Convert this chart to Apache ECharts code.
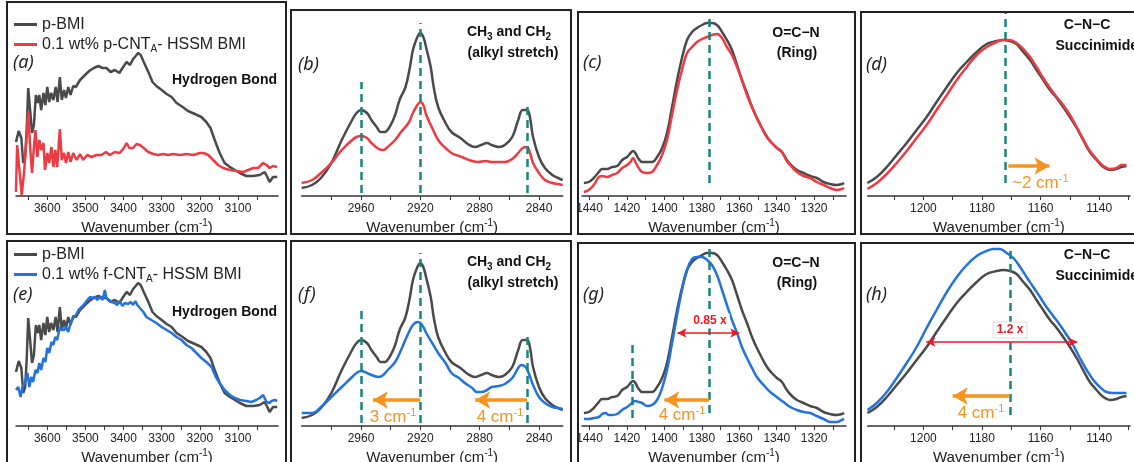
<!DOCTYPE html>
<html lang="en">
<head>
    <meta charset="UTF-8">
    <title>FTIR</title>
    <script src="https://cdn.jsdelivr.net/npm/echarts@6.0.0/dist/echarts.min.js"></script>
    <style>
        * { margin: 0; padding: 0 }
        html, body { width: 100%; height: 100%; background: #fff; }
        #main { width: 1134px; height: 462px; }
    </style>
</head>
<body>
<div id="main"></div>
<script type="text/javascript">
    // series names
    var BMI_NAME = 'p-BMI';
    var P_NAME = '0.1 wt% p-CNTA- HSSM BMI';
    var F_NAME = '0.1 wt% f-CNTA- HSSM BMI';

    // [wavenumber, absorbance (a.u.)]
    // hydrogen bond region (a)(e)
    var ohBmi = [[3682,54],[3675,65],[3668,58],[3663,33],[3658,39],[3654,66],[3650,108],[3645,86],[3640,63],[3635,71],[3630,101],[3625,93],[3621,101],[3616,86],[3610,103],[3605,91],[3600,109],[3595,94],[3590,103],[3584,96],[3578,109],[3573,94],[3567,119],[3562,96],[3556,106],[3551,98],[3545,109],[3539,101],[3532,110],[3525,109],[3514,116],[3501,121],[3490,125],[3478,128],[3466,130],[3455,128],[3445,128],[3434,124],[3423,126],[3411,123],[3401,129],[3392,134],[3383,131],[3375,137],[3368,140],[3362,143],[3355,141],[3347,134],[3335,124],[3324,114],[3314,110],[3300,106],[3287,102],[3274,99],[3261,93],[3245,89],[3231,85],[3213,82],[3196,79],[3183,74],[3172,68],[3161,56],[3148,43],[3135,33],[3121,29],[3108,26],[3095,23],[3078,20],[3060,20],[3043,21],[3030,24],[3023,19],[3017,14],[3008,19],[2997,19]];
    var ohP = [[3682,4],[3679,51],[3673,26],[3667,1],[3661,23],[3656,49],[3650,84],[3645,49],[3640,23],[3635,49],[3631,66],[3626,39],[3621,56],[3616,46],[3610,53],[3606,26],[3600,43],[3595,33],[3589,49],[3584,29],[3579,46],[3574,29],[3567,67],[3562,36],[3556,43],[3551,33],[3545,44],[3539,34],[3532,43],[3523,36],[3514,42],[3506,36],[3495,41],[3484,39],[3471,41],[3458,41],[3446,44],[3436,41],[3423,44],[3410,43],[3399,48],[3392,53],[3385,48],[3375,48],[3366,52],[3357,51],[3347,48],[3335,44],[3322,42],[3309,41],[3296,42],[3283,41],[3270,42],[3252,41],[3235,42],[3217,41],[3200,43],[3190,43],[3178,41],[3165,36],[3152,31],[3139,28],[3121,26],[3104,25],[3086,24],[3073,26],[3060,28],[3047,28],[3034,33],[3025,31],[3017,28],[3008,30],[2997,29]];
    var ohF = [[3682,36],[3676,39],[3670,29],[3665,39],[3659,43],[3652,53],[3647,39],[3642,49],[3637,44],[3631,56],[3626,53],[3621,63],[3616,56],[3610,68],[3605,64],[3600,78],[3595,73],[3589,84],[3584,81],[3579,89],[3574,86],[3567,99],[3562,96],[3556,96],[3551,99],[3545,94],[3539,103],[3532,108],[3525,111],[3518,116],[3510,119],[3501,123],[3495,126],[3488,129],[3481,128],[3475,129],[3469,126],[3462,129],[3455,126],[3449,136],[3445,128],[3438,126],[3431,124],[3423,123],[3417,121],[3410,125],[3403,120],[3397,123],[3388,122],[3381,124],[3375,121],[3369,125],[3364,121],[3357,118],[3348,114],[3340,109],[3327,106],[3314,103],[3300,99],[3287,96],[3274,93],[3261,89],[3248,86],[3235,81],[3222,78],[3209,73],[3196,68],[3183,64],[3169,59],[3158,49],[3148,43],[3135,36],[3121,31],[3108,28],[3095,26],[3078,25],[3065,24],[3052,26],[3043,28],[3034,31],[3030,29],[3025,24],[3018,23],[3012,25],[3004,26],[2997,25]];

    // alkyl stretch region (b)(f)
    var chBmi = [[3000,8],[2993,11],[2987,18],[2980,33],[2973,56],[2966,76],[2963,83],[2960,86],[2956,83],[2953,76],[2949,68],[2947,64],[2944,64],[2940,71],[2937,81],[2934,96],[2930,109],[2927,129],[2925,146],[2922,159],[2920,163],[2918,159],[2916,148],[2913,129],[2911,109],[2908,89],[2903,73],[2899,64],[2893,58],[2888,52],[2883,49],[2879,51],[2875,53],[2872,51],[2867,49],[2863,51],[2858,59],[2854,76],[2851,86],[2848,86],[2846,78],[2844,59],[2840,39],[2836,28],[2831,21],[2827,18],[2824,16]];
    var chP = [[3000,13],[2993,16],[2987,23],[2980,33],[2973,46],[2966,56],[2963,59],[2960,60],[2956,58],[2953,53],[2948,47],[2945,46],[2942,49],[2937,56],[2933,64],[2928,73],[2925,83],[2922,91],[2920,94],[2918,91],[2916,81],[2912,68],[2908,56],[2903,48],[2899,43],[2892,39],[2885,35],[2881,34],[2876,35],[2872,34],[2867,34],[2863,34],[2858,37],[2854,43],[2851,48],[2848,49],[2846,43],[2844,33],[2840,23],[2836,16],[2831,13],[2827,12],[2824,11]];
    var chF = [[3000,13],[2993,13],[2987,19],[2980,29],[2973,39],[2966,49],[2963,53],[2960,55],[2956,53],[2953,51],[2948,49],[2945,51],[2942,56],[2937,64],[2933,76],[2928,93],[2925,101],[2922,104],[2920,103],[2918,99],[2916,93],[2912,83],[2908,73],[2903,63],[2899,53],[2894,48],[2890,43],[2885,38],[2882,34],[2879,34],[2875,36],[2872,39],[2867,40],[2863,42],[2858,48],[2854,58],[2852,61],[2849,59],[2847,53],[2844,41],[2840,29],[2836,23],[2831,19],[2827,18],[2824,17]];

    // O=C-N ring region (c)(g)
    var ringBmi = [[1443,13],[1440.4,14],[1437.7,18],[1435,24],[1433.2,27],[1430.6,27],[1427.9,29],[1425.2,30],[1422.5,36],[1419.9,39],[1418.1,43],[1416.7,45],[1415.5,43],[1413.7,37],[1411.9,34],[1409.2,34],[1406.6,34],[1403.9,39],[1401.2,48],[1398.6,63],[1395.9,89],[1393.2,116],[1390.6,138],[1387.9,156],[1385.2,164],[1382.6,168],[1379.9,171],[1377.2,173],[1374.6,173],[1371.9,171],[1369.2,164],[1366.6,156],[1363.9,146],[1361.2,131],[1358.6,116],[1355.9,103],[1353.2,89],[1350.6,78],[1347.9,68],[1345.2,59],[1342.6,53],[1339.9,48],[1337.2,44],[1334.6,36],[1331.9,30],[1329.2,26],[1325.7,23],[1322.1,20],[1318.6,18],[1315,14],[1311.5,12],[1307.9,11],[1305.2,12],[1304,13]];
    var ringP = [[1443,4],[1440.4,6],[1437.7,11],[1435,19],[1433.2,20],[1430.6,19],[1427.9,21],[1425.2,23],[1422.5,28],[1419.9,31],[1418.1,34],[1416.7,38],[1415.5,34],[1413.7,28],[1411.9,24],[1409.2,23],[1406.6,24],[1403.9,31],[1401.2,41],[1398.6,56],[1395.9,81],[1393.2,106],[1390.6,126],[1387.9,143],[1385.2,149],[1382.6,154],[1379.9,157],[1377.2,159],[1374.6,161],[1371.9,162],[1369.2,158],[1366.6,149],[1363.9,141],[1361.2,129],[1358.6,116],[1355.9,101],[1353.2,89],[1350.6,78],[1347.9,68],[1345.2,59],[1342.6,53],[1339.9,48],[1337.2,44],[1334.6,35],[1331.9,29],[1329.2,24],[1325.7,20],[1322.1,18],[1318.6,14],[1315,11],[1311.5,8],[1307.9,6],[1305.2,7],[1304,8]];
    var ringF = [[1443,7],[1440.4,7],[1437.7,8],[1435,9],[1433.2,12],[1431.5,13],[1429.7,11],[1427.9,11],[1425.2,12],[1422.6,16],[1419.9,19],[1417.2,23],[1415.5,25],[1413.7,24],[1411.9,23],[1409.2,20],[1406.6,21],[1403.9,26],[1401.2,38],[1398.6,56],[1395.9,83],[1393.2,111],[1390.6,136],[1387.9,156],[1385.2,167],[1382.6,169],[1379.9,169],[1377.2,166],[1374.6,161],[1371.9,151],[1369.2,136],[1366.6,121],[1363.9,106],[1361.2,93],[1358.6,79],[1355.9,68],[1353.2,58],[1350.6,49],[1347,41],[1343.5,34],[1340,29],[1336.4,24],[1332.8,19],[1329.2,16],[1325.7,14],[1322.1,13],[1318.6,10],[1315,7],[1311.5,4],[1307.9,4],[1305.2,6],[1304,7]];

    // C-N-C succinimide region (d)(h)
    var cncBmi = [[1219.1,13],[1215.9,19],[1212.5,29],[1209.1,41],[1205.7,53],[1202.3,66],[1198.9,79],[1195.5,94],[1192,109],[1188.6,123],[1185.2,134],[1181.8,144],[1178.4,152],[1175,155],[1172.7,156],[1170.5,155],[1168.2,152],[1165.9,144],[1163.6,136],[1161.4,126],[1159.1,116],[1156.8,106],[1154.5,98],[1152.3,89],[1150,79],[1147.7,68],[1145.5,56],[1143.2,44],[1140.9,36],[1138.6,29],[1136.4,26],[1134.1,27],[1132.4,29],[1130.7,30]];
    var cncP = [[1219.1,7],[1215.9,13],[1212.5,22],[1209.1,33],[1205.7,45],[1202.3,58],[1198.9,71],[1195.5,86],[1192,101],[1188.6,116],[1185.2,129],[1181.8,141],[1178.4,149],[1175,154],[1172.7,156],[1170.5,156],[1168.2,153],[1165.9,147],[1163.6,139],[1161.4,129],[1159.1,118],[1156.8,108],[1154.5,99],[1152.3,91],[1150,81],[1147.7,69],[1145.5,57],[1143.2,45],[1140.9,37],[1138.6,30],[1136.4,27],[1134.1,28],[1132.4,31],[1130.7,31]];
    var cncF = [[1219.1,16],[1215.9,23],[1212.5,34],[1209.1,48],[1205.7,63],[1202.3,79],[1198.9,98],[1195.5,116],[1192,134],[1188.6,149],[1185.2,161],[1181.8,170],[1178.4,175],[1176.1,177],[1173.9,177],[1171.6,173],[1169.3,168],[1167,159],[1164.8,149],[1162.5,139],[1160.2,129],[1158,119],[1155.7,110],[1153.4,101],[1151.1,91],[1148.9,81],[1146.6,68],[1144.3,56],[1142,46],[1139.8,39],[1137.5,34],[1135.2,33],[1133,33],[1130.7,33]];

    // axis ranges and ticks, one per column
    var xRanges = [[2995, 3682], [2824, 3000], [1303, 1444], [1129.5, 1219]];
    var xLabels = [
        [3600, 3500, 3400, 3300, 3200, 3100],
        [2960, 2920, 2880, 2840],
        [1440, 1420, 1400, 1380, 1360, 1340, 1320],
        [1200, 1180, 1160, 1140]
    ];
    var xTicks = [
        [3650, 3600, 3550, 3500, 3450, 3400, 3350, 3300, 3250, 3200, 3150, 3100, 3050],
        [2980, 2960, 2940, 2920, 2900, 2880, 2860, 2840],
        [1440, 1430, 1420, 1410, 1400, 1390, 1380, 1370, 1360, 1350, 1340, 1330, 1320, 1310],
        [1210, 1200, 1190, 1180, 1170, 1160, 1150, 1140, 1130]
    ];

    var FONT = "'Liberation Sans', Arial, sans-serif";
    var GRAY = '#4a4a4a', RED = '#ee3b43', BLUE = '#2472e0', TEAL = '#16867e', ORANGE = '#f7931e', ARED = '#f01822';

    var colLeft = [16, 301.7, 582, 867.7];
    var colWidth = [262, 261, 264, 262.3];
    var rowTop = [10, 240];

    var grids = [], xAxes = [], yAxes = [];
    for (var r = 0; r < 2; r++) {
        for (var c = 0; c < 4; c++) {
            var i = r * 4 + c;
            grids.push({left: colLeft[c], top: rowTop[r], width: colWidth[c], height: 186,
                containLabel: false, outerBoundsMode: 'none'});
            xAxes.push({
                gridIndex: i, type: 'value', inverse: true,
                min: xRanges[c][0], max: xRanges[c][1],
                splitLine: {show: false},
                axisLine: {lineStyle: {color: '#333', width: 1.5}},
                axisTick: {customValues: xTicks[c], length: 4, lineStyle: {color: '#333', width: 1}},
                axisLabel: {
                    customValues: xLabels[c], fontSize: 12, color: '#222', fontFamily: FONT, margin: 7,
                    formatter: function (v) { return String(v); }
                },
                name: 'Wavenumber (cm{sup|-1})', nameLocation: 'middle', nameGap: 22,
                nameTextStyle: {
                    fontSize: 15, color: '#222', fontFamily: FONT, lineHeight: 20,
                    rich: {sup: {fontSize: 10, lineHeight: 10, verticalAlign: 'top', color: '#222', fontFamily: FONT}}
                }
            });
            yAxes.push({gridIndex: i, type: 'value', min: 0, max: 186, show: false});
        }
    }

    var DASH = {color: TEAL, width: 2.5, type: [8, 5]};

    function vdash(x, y0, y1) {
        return [{coord: [x, y0], symbol: 'none', lineStyle: DASH}, {coord: [x, y1], symbol: 'none', lineStyle: DASH}];
    }

    function orangeArrow(x0, x1, y) {
        var st = {color: ORANGE, width: 3.5, type: 'solid'};
        return [{coord: [x0, y], symbol: 'none', lineStyle: st},
            {coord: [x1, y], symbol: 'arrow', symbolSize: [13, 15], lineStyle: st}];
    }

    function redArrow(x0, x1, y) {
        var st = {color: ARED, width: 1.5, type: 'solid'};
        return [{coord: [x0, y], symbol: 'arrow', symbolSize: [7, 9], lineStyle: st},
            {coord: [x1, y], symbol: 'arrow', symbolSize: [7, 9], lineStyle: st}];
    }

    function spec(name, data, color, idx, smooth, marks) {
        var s = {
            name: name, type: 'line', xAxisIndex: idx, yAxisIndex: idx,
            data: data, symbol: 'none', smooth: smooth, animation: false,
            lineStyle: {color: color, width: 2.5}, itemStyle: {color: color},
            emphasis: {disabled: true}
        };
        if (marks) {
            s.markLine = {
                silent: true, animation: false, symbol: 'none',
                label: {show: false}, emphasis: {disabled: true}, data: marks
            };
        }
        return s;
    }

    var series = [
        spec(BMI_NAME, ohBmi, GRAY, 0, false),
        spec(P_NAME, ohP, RED, 0, false),
        spec(BMI_NAME, chBmi, GRAY, 1, 0.4, [vdash(2960, 3, 114), vdash(2920, 3, 173), vdash(2848, 3, 94)]),
        spec(P_NAME, chP, RED, 1, 0.4),
        spec(BMI_NAME, ringBmi, GRAY, 2, 0.4, [vdash(1376, 13, 179)]),
        spec(P_NAME, ringP, RED, 2, 0.4),
        spec(BMI_NAME, cncBmi, GRAY, 3, 0.4, [vdash(1172, 13, 183)]),
        spec(P_NAME, cncP, RED, 3, 0.4, [orangeArrow(1171, 1157, 30)]),

        spec(BMI_NAME, ohBmi, GRAY, 4, false),
        spec(F_NAME, ohF, BLUE, 4, false),
        spec(BMI_NAME, chBmi, GRAY, 5, 0.4, [vdash(2960, 3, 116), vdash(2920, 3, 173), vdash(2848, 3, 94)]),
        spec(F_NAME, chF, BLUE, 5, 0.4, [orangeArrow(2920, 2952, 26), orangeArrow(2848, 2883, 26)]),
        spec(BMI_NAME, ringBmi, GRAY, 6, 0.4, [vdash(1376, 13, 178), vdash(1417, 8, 86)]),
        spec(F_NAME, ringF, BLUE, 6, 0.4, [orangeArrow(1376, 1400, 26), redArrow(1393, 1360, 93)]),
        spec(BMI_NAME, cncBmi, GRAY, 7, 0.4, [vdash(1170.5, 11, 178)]),
        spec(F_NAME, cncF, BLUE, 7, 0.4, [orangeArrow(1170.5, 1190, 30), redArrow(1199, 1147.5, 84)])
    ];

    var legendText = {
        fontSize: 16, color: '#222', fontFamily: FONT, lineHeight: 20,
        rich: {sub: {fontSize: 10, lineHeight: 10, verticalAlign: 'bottom', color: '#222', fontFamily: FONT}}
    };
    function legendFmt(name) {
        return name.replace('CNTA', 'CNT{sub|A}');
    }
    var legends = [
        {top: 9.5, data: [BMI_NAME, P_NAME]},
        {top: 239.5, data: [BMI_NAME, F_NAME]}
    ].map(function (l) {
        return {
            left: 9, top: l.top, orient: 'vertical', data: l.data, selectedMode: false,
            icon: 'rect', itemWidth: 23, itemHeight: 3, itemGap: 0,
            itemStyle: {borderWidth: 0},
            textStyle: legendText, formatter: legendFmt
        };
    });

    // texts and panel frames
    var richSub = function (weight, color) {
        return {fontSize: 10, lineHeight: 10, verticalAlign: 'bottom', fontWeight: weight, fontFamily: FONT, fill: color};
    };
    var richSup = function (size, color) {
        return {fontSize: size, lineHeight: 10, verticalAlign: 'top', fontFamily: FONT, fill: color};
    };

    function txt(text, x, y, o) {
        o = o || {};
        var st = {
            text: text, x: x, y: y,
            fill: o.color || '#111', fontFamily: o.family || FONT,
            fontSize: o.size || 14, fontWeight: o.weight || 'normal', fontStyle: o.italic ? 'italic' : 'normal',
            textAlign: o.align || 'left', textVerticalAlign: 'middle', verticalAlign: 'middle',
            lineHeight: o.lh || 20
        };
        if (o.rich) st.rich = o.rich;
        if (o.box) {
            st.backgroundColor = '#fff';
            st.padding = [1, 3];
            if (o.box === 'border') {
                st.borderColor = '#dcdcdc';
                st.borderWidth = 1;
            }
        }
        return {type: 'text', z: 100, silent: true, style: st};
    }

    var graphics = [];
    var frames = [[7, 2, 279, 232], [291, 10, 280, 224], [578, 12, 277, 222], [861, 12, 300, 222],
        [7, 241, 279, 240], [291, 241, 280, 240], [578, 243, 277, 240], [861, 243, 300, 240]];
    frames.forEach(function (f) {
        graphics.push({
            type: 'rect', z: 100, silent: true,
            shape: {x: f[0], y: f[1], width: f[2], height: f[3]},
            style: {fill: 'none', stroke: '#222', lineWidth: 2}
        });
    });

    var letters = [['(a)', 13, 63], ['(b)', 298, 65], ['(c)', 583, 63], ['(d)', 866, 65],
        ['(e)', 13, 295], ['(f)', 298, 295], ['(g)', 583, 295], ['(h)', 866, 295]];
    letters.forEach(function (l) {
        graphics.push(txt(l[0], l[1], l[2], {size: 18, italic: true, family: "'Noto Sans', sans-serif", color: '#222'}));
    });

    var boldC = {weight: 'bold', size: 14, align: 'center'};
    var boldCH = {weight: 'bold', size: 14, align: 'center', rich: {sub: richSub('bold', '#111')}};
    var orange = {size: 17, color: ORANGE, align: 'center', rich: {sup: richSup(11, ORANGE)}};

    [0, 230].forEach(function (dy) {
        graphics.push(txt('Hydrogen Bond', 277, 80 + dy + (dy ? 2 : 0), {weight: 'bold', size: 14, align: 'right'}));
        graphics.push(txt('CH{sub|3} and CH{sub|2}', 509, 32 + dy, boldCH));
        graphics.push(txt('(alkyl stretch)', 513, 53 + dy, boldC));
        graphics.push(txt('O=C\u2212N', 796, 33 + dy, boldC));
        graphics.push(txt('(Ring)', 797, 53 + dy, boldC));
        graphics.push(txt('C\u2212N\u2212C', 1087, 25 + dy, boldC));
        graphics.push(txt('Succinimide', 1138, 46 + dy, {weight: 'bold', size: 14, align: 'right'}));
    });

    graphics.push(txt('~2 cm{sup|-1}', 1012, 183, {size: 17, color: ORANGE, rich: {sup: richSup(11, ORANGE)}}));
    graphics.push(txt('3 cm{sup|-1}', 393, 417, orange));
    graphics.push(txt('4 cm{sup|-1}', 500, 417, orange));
    graphics.push(txt('4 cm{sup|-1}', 682, 415, orange));
    graphics.push(txt('4 cm{sup|-1}', 981, 413, orange));
    graphics.push(txt('0.85 x', 710, 321, {size: 12, weight: 'bold', color: ARED, align: 'center', lh: 13, box: true}));
    graphics.push(txt('1.2 x', 1010, 330, {size: 12, weight: 'bold', color: ARED, align: 'center', lh: 13, box: 'border'}));

    var myChart = echarts.init(document.getElementById('main'));
    var option = {
        backgroundColor: '#fff',
        animation: false,
        grid: grids,
        xAxis: xAxes,
        yAxis: yAxes,
        legend: legends,
        series: series,
        graphic: {elements: graphics}
    };
    myChart.setOption(option);
</script>
</body>
</html>
